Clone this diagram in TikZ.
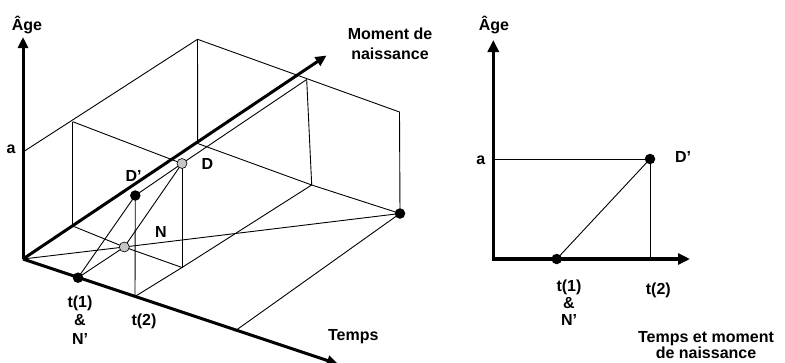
\documentclass[tikz,border=0pt]{standalone}
\usepackage{fontspec}
\setmainfont{Liberation Sans}
\usetikzlibrary{arrows.meta}

\tikzset{
  axis/.style={line width=3pt, -{Triangle[length=11pt,width=10pt]}},
  axisR/.style={line width=3.4pt, {Triangle[length=12pt,width=11pt]}-{Triangle[length=12pt,width=11pt]}},
  thin/.style={line width=0.9pt},
  blackdot/.style={circle, fill=black, inner sep=0pt, minimum size=10.5pt},
  greydot/.style={circle, fill=gray!45, draw=black, line width=0.6pt, inner sep=0pt, minimum size=10pt},
  lbl/.style={font=\fontsize{16}{18}\selectfont\bfseries, inner sep=0pt, align=center},
}

\begin{document}
\begin{tikzpicture}[x=1pt, y=-1pt]
\useasboundingbox (0,0) rectangle (785,362);

% ---------- three-dimensional view ----------
\coordinate (O)    at (23,259);
\coordinate (Atip) at (23,37);
\coordinate (Btip) at (326.5,55.5);
\coordinate (Ttip) at (338,364);
\coordinate (Aa)   at (23,152);
\coordinate (BT)   at (197.5,39.3);
\coordinate (BB)   at (197.7,143.5);
\coordinate (Rtop) at (399.5,112);
\coordinate (E)    at (400,213.5);
\coordinate (Mtop) at (306.7,79.5);
\coordinate (Mbot) at (311.7,185);
\coordinate (Itop) at (72.7,121.7);
\coordinate (Ibot) at (72.7,226);
\coordinate (D)    at (182,163.5);
\coordinate (Dbot) at (182,267.5);
\coordinate (Dp)   at (135.3,195.5);
\coordinate (N)    at (124.3,247);
\coordinate (T1)   at (78,277.7);
\coordinate (T2)   at (135,296.5);
\coordinate (P3)   at (235,331);

% box edges
\draw[thin] (Aa) -- (BT) -- (Rtop) -- (E);
\draw[thin] (BT) -- (BB) -- (Mbot) -- (E);
\draw[thin] (Mtop) -- (Mbot);
\draw[thin] (Mtop) -- (D);
\draw[thin] (Itop) -- (Ibot);
\draw[thin] (Itop) -- (D);
\draw[thin] (Ibot) -- (N) -- (Dbot);
\draw[thin] (D) -- (Dbot);
\draw[thin] (T2) -- (Dbot) -- (Mbot);
\draw[thin] (P3) -- (E);
\draw[thin] (O) -- (N) -- (E);
% lifelines
\draw[thin] (T1) -- (N) -- (D);
\draw[thin] (T1) -- (Dp) -- (D);
\draw[thin] (Dp) -- (T2);

% axes
\draw[axis] (O) -- (Atip);
\draw[axis] (O) -- (Btip);
\draw[axis] (O) -- (Ttip);

% events
\node[blackdot] (nT1) at (T1) {};
\node[blackdot] (nDp) at (Dp) {};
\node[blackdot] (nE)  at (E) {};
\node[greydot]  (nN)  at (N) {};
\node[greydot]  (nD)  at (D) {};

% labels
\node[lbl] (lAge)  at (27,25) {Âge};
\node[lbl, font=\fontsize{16}{20}\selectfont\bfseries] (lMom) at (390,43.5) {Moment de\\naissance};
\node[lbl] (la)    at (11,149.5) {a};
\node[lbl] (lDp)   at (133.5,175.5) {D’};
\node[lbl] (lD)    at (207.3,164) {D};
\node[lbl] (lN)    at (161,231.5) {N};
\node[lbl, font=\fontsize{16}{18.3}\selectfont\bfseries] (lT1) at (80,320) {t(1)\\\&\\N’};
\node[lbl] (lT2)   at (144,321.7) {t(2)};
\node[lbl] (lTemps) at (353.3,336.7) {Temps};

% ---------- plane view ----------
\coordinate (O2)   at (493.3,259);
\coordinate (A2)   at (493.3,40);
\coordinate (X2)   at (690,259);
\coordinate (a2)   at (493.3,159);
\coordinate (D2)   at (650,159);
\coordinate (F2)   at (650,259);
\coordinate (T12)  at (556.7,259);

\draw[thin] (a2) -- (D2) -- (F2);
\draw[thin] (T12) -- (D2);
\draw[axisR] (A2) -- (O2) -- (X2);

\node[blackdot] (nD2)  at (D2) {};
\node[blackdot] (nT12) at (T12) {};

\node[lbl] (lAge2) at (494,25) {Âge};
\node[lbl] (la2)   at (480.7,160) {a};
\node[lbl] (lD2)   at (683,156.5) {D’};
\node[lbl, font=\fontsize{16}{16.7}\selectfont\bfseries] (lT12) at (569,302.7) {t(1)\\\&\\N’};
\node[lbl] (lT22)  at (658.3,290) {t(2)};
\node[lbl, font=\fontsize{16}{16}\selectfont\bfseries] (lTm) at (706,344.7) {Temps et moment\\de naissance};
\end{tikzpicture}
\end{document}
